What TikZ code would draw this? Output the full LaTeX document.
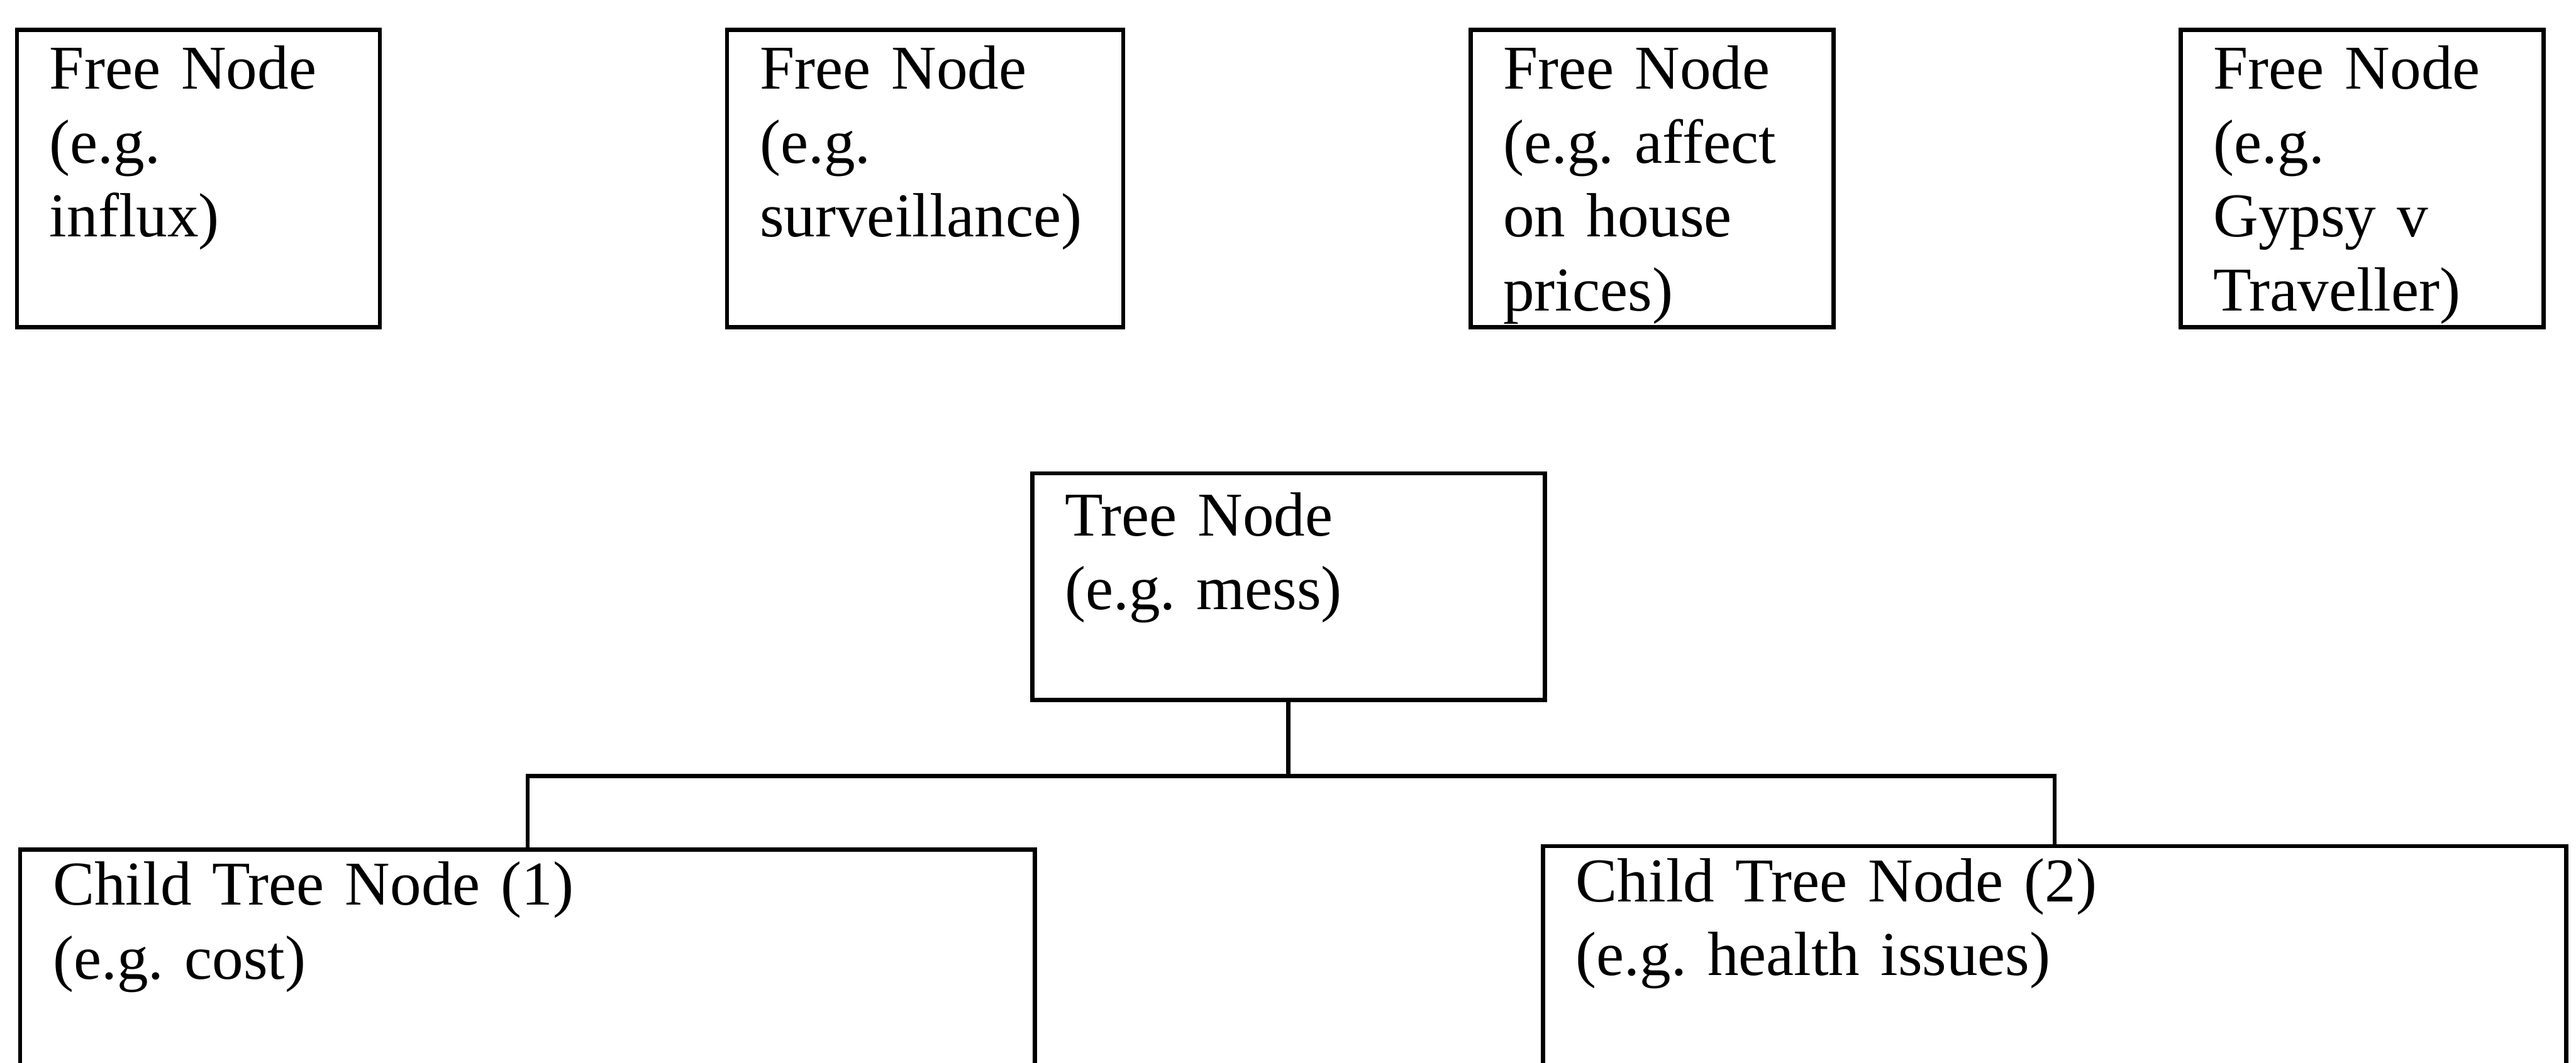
\documentclass[tikz,border=0pt]{standalone}
\usepackage{fontspec}
\setmainfont{Liberation Serif}
\frenchspacing
\usetikzlibrary{positioning}

\begin{document}
\begin{tikzpicture}[x=0.316pt, y=-0.316pt, line width=0.8pt, font=\fontsize{12}{14.2}\selectfont]
    \tikzstyle{freebox}=[draw=black,rectangle,align=left,text width=57.2pt,inner xsep=6.3pt,inner ysep=0pt,text height=11.4pt,text depth=45.8pt]
    \tikzstyle{treebox}=[freebox,text width=86pt,text height=12pt,text depth=31.6pt]
    \tikzstyle{childbox}=[freebox,text height=10.7pt,text depth=60pt]

    \useasboundingbox (0,0) rectangle (1568,647);
    \clip (0,0) rectangle (1568,647);

    % free nodes
    \node[freebox,anchor=north west] (influx) at (9,17) {Free Node\\(e.g.\\influx)}; %free 1
    \node[freebox,text width=63.6pt] (surveillance)[right=66pt of influx] {Free Node\\(e.g.\\surveillance)}; %free 2
    \node[freebox] (prices)[right=66pt of surveillance] {Free Node\\(e.g. affect\\on house\\prices)}; %free 3
    \node[freebox] (gypsy)[right=66pt of prices] {Free Node\\(e.g.\\Gypsy v\\Traveller)}; %free 4

    % tree
    \node[treebox,anchor=north west] (mess) at (627,287) {Tree Node\\(e.g. mess)};
    \node[childbox,anchor=north west,text width=182.6pt] (cost) at (11,516) {Child Tree Node (1)\\(e.g. cost)}; %child 1
    \node[childbox,anchor=north west,text width=184.2pt] (health) at (938,514) {Child Tree Node (2)\\(e.g. health issues)}; %child 2

    % edges
    \draw (mess.south) -- ++(0,45) -| (cost.north);
    \draw (mess.south) -- ++(0,45) -| (health.north);
\end{tikzpicture}
\end{document}
